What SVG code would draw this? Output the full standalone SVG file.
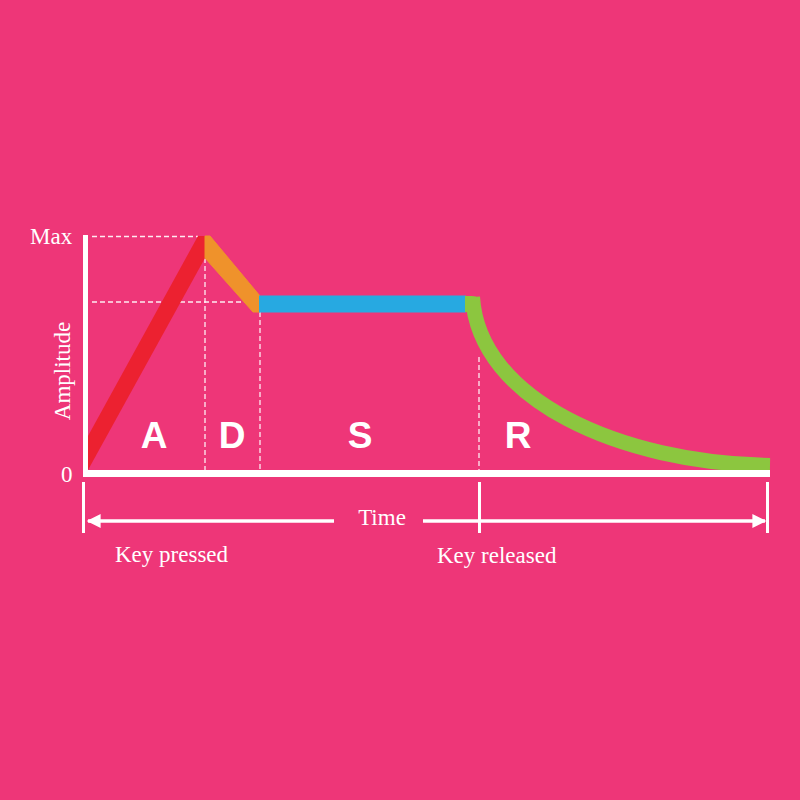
<svg xmlns="http://www.w3.org/2000/svg" width="800" height="800" viewBox="0 0 800 800">
<style>
.lbl{font-family:"Liberation Serif","Times New Roman",serif;fill:#fff;font-size:23px}
.big{font-family:"Liberation Sans",Arial,sans-serif;font-weight:bold;fill:#fff;font-size:37px;text-anchor:middle}
.dash{stroke:#fff;stroke-width:1.3;stroke-dasharray:5 3;fill:none;opacity:0.9}
.axis{stroke:#fff;fill:none}
</style>
<defs>
<marker id="ah" viewBox="0 0 10 10" refX="9" refY="5" markerWidth="17" markerHeight="14" markerUnits="userSpaceOnUse" orient="auto-start-reverse">
<path d="M0,0 L10,5 L0,10 Z" fill="#fff"/>
</marker>
</defs>
<rect width="800" height="800" fill="#ee3678"/>
<g id="guides">
<line class="dash" x1="92" y1="236.5" x2="198" y2="236.5"/>
<line class="dash" x1="92" y1="302" x2="252" y2="302"/>
<line class="dash" x1="205" y1="258" x2="205" y2="470"/>
<line class="dash" x1="260" y1="312" x2="260" y2="470"/>
<line class="dash" x1="479" y1="357" x2="479" y2="470"/>
</g>
<g id="envelope">
<polygon id="attack" points="88,470 88,436 198,236 205,236 205,258" fill="#ec2130"/>
<polygon id="decay" points="205,236 210,236 260,296 260,312 253,312 205,258" fill="#ef922b" stroke="#ef922b" stroke-width="1" stroke-linejoin="round"/>
<rect id="sustain" x="259" y="295.5" width="207" height="17" fill="#27a9e1"/>
<path id="release" d="M472.5,297 C479,400 620,463 770,465.5" fill="none" stroke="#8cc63f" stroke-width="15"/>
<path d="M465,296 L472,296 Q480,296 480,304 L480,312 L465,312 Z" fill="#8cc63f"/>
</g>
<g id="axes">
<line class="axis" x1="85.5" y1="235" x2="85.5" y2="477" stroke-width="5"/>
<line class="axis" x1="83" y1="473.5" x2="770" y2="473.5" stroke-width="7"/>
<line class="axis" x1="83.5" y1="482" x2="83.5" y2="533" stroke-width="3"/>
<line class="axis" x1="479.5" y1="482" x2="479.5" y2="533" stroke-width="3"/>
<line class="axis" x1="767.5" y1="482" x2="767.5" y2="533" stroke-width="3"/>
</g>
<g id="connectors">
<line class="axis" x1="334" y1="521" x2="88" y2="521" stroke-width="3.5" marker-end="url(#ah)"/>
<line class="axis" x1="423" y1="521" x2="765" y2="521" stroke-width="3.5" marker-end="url(#ah)"/>
</g>
<g id="labels">
<text class="lbl" x="30" y="244" font-size="22">Max</text>
<text class="lbl" x="61" y="482" font-size="22">0</text>
<text class="lbl" transform="translate(70,371) rotate(-90)" text-anchor="middle" font-size="22">Amplitude</text>
<text class="lbl" x="382" y="525" text-anchor="middle">Time</text>
<text class="lbl" x="115" y="562">Key pressed</text>
<text class="lbl" x="437" y="563">Key released</text>
<text class="big" x="154" y="448">A</text>
<text class="big" x="232" y="448">D</text>
<text class="big" x="360" y="448">S</text>
<text class="big" x="518" y="448">R</text>
</g>
</svg>
